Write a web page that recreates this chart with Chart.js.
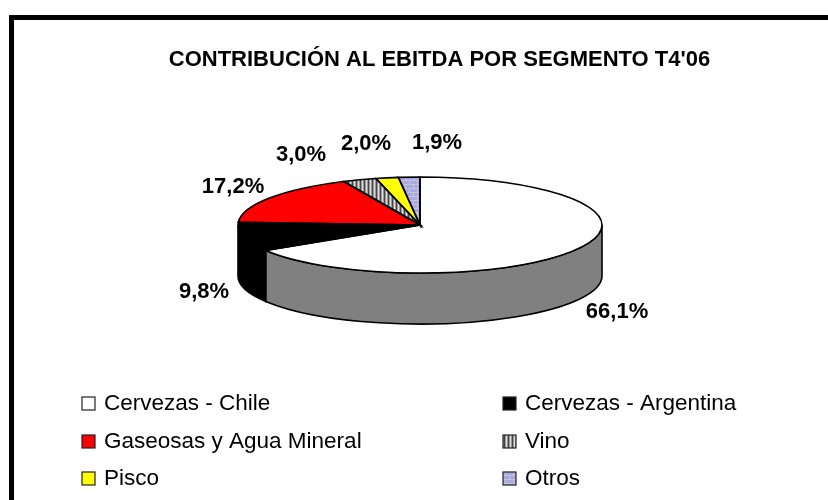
<!DOCTYPE html>
<html>
<head>
<meta charset="utf-8">
<script src="https://cdn.jsdelivr.net/npm/chart.js@4"></script>
<style>
  html, body { margin: 0; padding: 0; background: #fff; }
  #wrap { width: 828px; height: 500px; }
</style>
</head>
<body>
<div id="wrap"><canvas id="pie" width="828" height="500"></canvas></div>
<script>
// Data
const titleText = "CONTRIBUCIÓN AL EBITDA POR SEGMENTO T4'06";
const segments = ['Cervezas - Chile', 'Cervezas - Argentina', 'Gaseosas y Agua Mineral', 'Vino', 'Pisco', 'Otros'];
const shares = [66.1, 9.8, 17.2, 3.0, 2.0, 1.9];

// Pie geometry on the page (tilted disc)
const CX = 420, CY = 225, RX = 182, RY = 48, DEPTH = 51;
const FONT = "'Liberation Sans', Arial, sans-serif";

// Hatch fills
function makePattern(w, h, paint) {
    const c = document.createElement('canvas');
    c.width = w;
    c.height = h;
    paint(c.getContext('2d'));
    return c.getContext('2d').createPattern(c, 'repeat');
}

const vinoFill = makePattern(4, 4, g => {
    ['#444', '#999', '#ddd', '#999'].forEach((col, i) => {
        g.fillStyle = col;
        g.fillRect(i, 0, 1, 4);
    });
});

const otrosFill = makePattern(8, 8, g => {
    g.fillStyle = '#a8a8e4';
    g.fillRect(0, 0, 8, 8);
    g.fillStyle = '#c4c4d4';
    g.fillRect(0, 3, 8, 1);
    g.fillRect(0, 7, 8, 1);
    g.fillRect(1, 0, 1, 3);
    g.fillRect(5, 4, 1, 3);
});

const fills = ['#ffffff', '#000000', '#ff0000', vinoFill, '#ffff00', otrosFill];
const wallFills = ['#808080', '#000000', '#800000', '#555555', '#808000', '#666699'];

// Where the percentages sit, centre of each text
const labelSpots = [[617, 312], [204, 292], [233, 187], [301, 155], [366, 144], [437, 143]];
// Legend slots: square left edge, text left edge, row centre
const legendSpots = [
    [82, 104, 404], [503, 525, 404],
    [82, 104, 442], [503, 525, 442],
    [82, 104, 479], [503, 525, 479]
];

function drawWalls(ctx, arcs) {
    arcs.forEach((arc, i) => {
        const from = Math.max(arc.startAngle, 0);
        const to = Math.min(arc.endAngle, Math.PI);
        if (to <= from) return;
        ctx.beginPath();
        ctx.ellipse(CX, CY, RX, RY, 0, from, to);
        ctx.ellipse(CX, CY + DEPTH, RX, RY, 0, to, from, true);
        ctx.closePath();
        ctx.fillStyle = wallFills[i];
        ctx.fill();
        ctx.lineWidth = 1.6;
        ctx.strokeStyle = '#000';
        ctx.stroke();
    });
}

function drawOutlines(ctx, arcs) {
    arcs.forEach(arc => {
        ctx.beginPath();
        ctx.moveTo(CX, CY);
        ctx.ellipse(CX, CY, RX, RY, 0, arc.startAngle, arc.endAngle);
        ctx.closePath();
        ctx.lineWidth = 1.6;
        ctx.strokeStyle = '#000';
        ctx.stroke();
    });
}

// Squash the library's arcs into a disc and give it a side wall
const tiltPlugin = {
    id: 'tilt',
    beforeDatasetsDraw(chart) {
        const ctx = chart.ctx;
        const arcs = chart.getDatasetMeta(0).data;
        const sx = RX / arcs[0].outerRadius;
        const sy = RY / arcs[0].outerRadius;

        drawWalls(ctx, arcs);

        ctx.save();
        ctx.translate(CX, CY);
        ctx.scale(sx, sy);
        ctx.translate(-arcs[0].x, -arcs[0].y);
        // keep the hatches at page size under the squash
        const undo = new DOMMatrix().translate(arcs[0].x, arcs[0].y).scale(1 / sx, 1 / sy);
        vinoFill.setTransform(undo);
        otrosFill.setTransform(undo);
    },
    afterDatasetsDraw(chart) {
        const ctx = chart.ctx;
        ctx.restore();
        vinoFill.setTransform(new DOMMatrix());
        otrosFill.setTransform(new DOMMatrix());
        drawOutlines(ctx, chart.getDatasetMeta(0).data);
    },
    afterDraw(chart) {
        const ctx = chart.ctx;
        ctx.save();

        // Frame: only top and left fit in the picture
        ctx.fillStyle = '#000';
        ctx.fillRect(9, 15, 819, 5);
        ctx.fillRect(9, 15, 5, 485);

        // Percent labels
        ctx.textAlign = 'center';
        ctx.textBaseline = 'middle';
        ctx.font = 'bold 22px ' + FONT;
        shares.forEach((v, i) => {
            ctx.fillText(v.toFixed(1).replace('.', ',') + '%', labelSpots[i][0], labelSpots[i][1]);
        });

        // Legend
        ctx.textAlign = 'left';
        ctx.font = '22.5px ' + FONT;
        segments.forEach((name, i) => {
            const [boxX, textX, y] = legendSpots[i];
            ctx.fillStyle = fills[i];
            ctx.fillRect(boxX, y - 7, 13, 13);
            ctx.lineWidth = 1.2;
            ctx.strokeStyle = '#222';
            ctx.strokeRect(boxX, y - 7, 13, 13);
            ctx.fillStyle = '#000';
            ctx.fillText(name, textX, y);
        });

        ctx.restore();
    }
};

new Chart(document.getElementById('pie'), {
    type: 'pie',
    data: {
        labels: segments,
        datasets: [{
            data: shares,
            backgroundColor: fills,
            borderWidth: 0
        }]
    },
    options: {
        responsive: false,
        animation: false,
        layout: { padding: { left: 51 } },
        plugins: {
            legend: { display: false },
            tooltip: { enabled: false },
            title: {
                display: true,
                fullSize: false,
                text: titleText,
                color: '#000',
                font: { family: FONT, size: 22, weight: 'bold' },
                padding: { top: 47, bottom: 10 }
            }
        }
    },
    plugins: [tiltPlugin]
});
</script>
</body>
</html>
